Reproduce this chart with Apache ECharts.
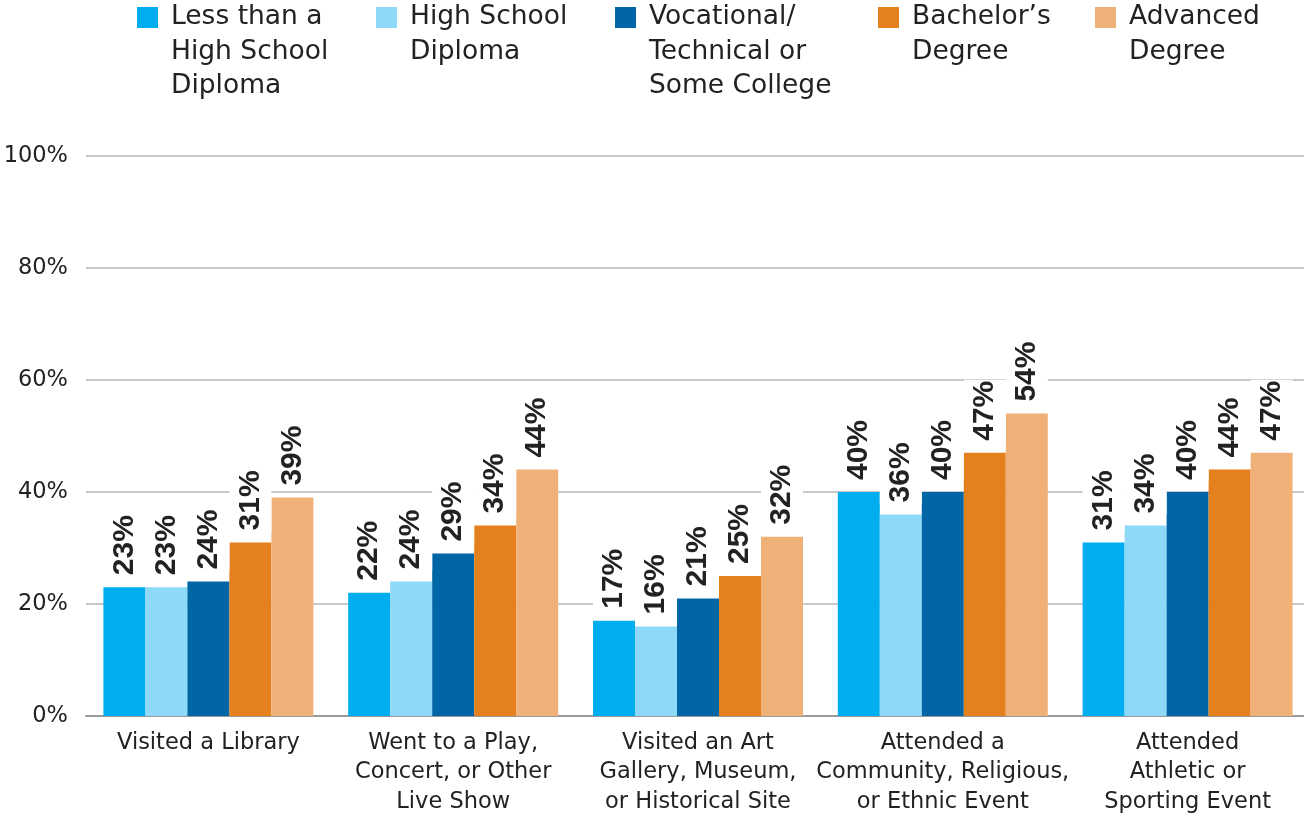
<!DOCTYPE html>
<html>
<head>
<meta charset="utf-8">
<script src="https://cdn.jsdelivr.net/npm/echarts@6/dist/echarts.min.js"></script>
<style>
  html, body { margin: 0; padding: 0; background: #fff; overflow: hidden; }
  #chart { width: 1310px; height: 818px; }
</style>
</head>
<body>
<div id="chart"></div>
<script>
// Activity categories (x axis)
const categories = [
  'Visited a Library',
  'Went to a Play,\nConcert, or Other\nLive Show',
  'Visited an Art\nGallery, Museum,\nor Historical Site',
  'Attended a\nCommunity, Religious,\nor Ethnic Event',
  'Attended\nAthletic or\nSporting Event'
];

// Education levels (series)
const seriesNames = [
  'Less than a\nHigh School\nDiploma',
  'High School\nDiploma',
  'Vocational/\nTechnical or\nSome College',
  'Bachelor\u2019s\nDegree',
  'Advanced\nDegree'
];

// Share of each group taking part, in percent
const lessThanHighSchool = [23, 22, 17, 40, 31];
const highSchool         = [23, 24, 16, 36, 34];
const someCollege        = [24, 29, 21, 40, 40];
const bachelors          = [31, 34, 25, 47, 44];
const advanced           = [39, 44, 32, 54, 47];

const seriesValues = [lessThanHighSchool, highSchool, someCollege, bachelors, advanced];
const colors = ['#00AEEF', '#8ED8F8', '#0066A5', '#E5801F', '#F0B179'];

// Percentage axis ticks
const yMin = 0, yMax = 100, yStep = 20;

const TEXT = '#222222';
const FONT = 'DejaVu Sans';
const LEGEND_LH = 34.5;
const ICON = 21;
const legendLeft = [137, 376, 615, 878, 1095];
const ICON_TOP = 7;

// One legend per item so each can sit at its own column.
// Legend text is centred on the icon, so blank lines are put in
// front of the label to bring its first line level with the icon.
const legends = seriesNames.map((name, i) => {
  const n = name.split('\n').length;
  const boxTop = ICON / 2 - ((2 * n - 1) * LEGEND_LH) / 2;
  return {
    data: [name],
    left: legendLeft[i],
    top: ICON_TOP + boxTop,
    padding: 0,
    icon: 'rect',
    itemWidth: ICON,
    itemHeight: ICON,
    selectedMode: false,
    formatter: (label) => '\n'.repeat(n - 1) + label,
    textStyle: {
      fontFamily: FONT,
      fontSize: 26.5,
      lineHeight: LEGEND_LH,
      color: TEXT,
      padding: [0, 0, 0, 8]
    }
  };
});

const series = seriesNames.map((name, i) => ({
  name: name,
  type: 'bar',
  data: seriesValues[i],
  barWidth: 42,
  barGap: '0%',
  itemStyle: { color: colors[i] },
  label: {
    show: true,
    position: 'top',
    rotate: 90,
    align: 'left',
    verticalAlign: 'middle',
    distance: 11,
    formatter: '{c}%',
    fontFamily: 'Liberation Sans',
    fontWeight: 'bold',
    fontSize: 30,
    color: TEXT,
    backgroundColor: '#ffffff',
    padding: [6, 1, 6, 1]
  }
}));

const chart = echarts.init(document.getElementById('chart'), null, { renderer: 'canvas' });
chart.setOption({
  animation: false,
  backgroundColor: '#ffffff',
  legend: legends,
  grid: { left: 86, right: 0, top: 156, height: 560, containLabel: false },
  xAxis: {
    type: 'category',
    data: categories,
    axisTick: { show: false },
    axisLine: { lineStyle: { color: '#9A9A9A', width: 2 } },
    axisLabel: {
      interval: 0,
      margin: 12,
      fontFamily: FONT,
      fontSize: 22.5,
      lineHeight: 29.5,
      color: TEXT
    }
  },
  yAxis: {
    type: 'value',
    min: yMin,
    max: yMax,
    interval: yStep,
    axisLine: { show: false },
    axisTick: { show: false },
    axisLabel: {
      formatter: '{value}%',
      margin: 18,
      fontFamily: FONT,
      fontSize: 22.5,
      color: TEXT
    },
    splitLine: { lineStyle: { color: '#C8C8C8', width: 2 } }
  },
  series: series
});
</script>
</body>
</html>
